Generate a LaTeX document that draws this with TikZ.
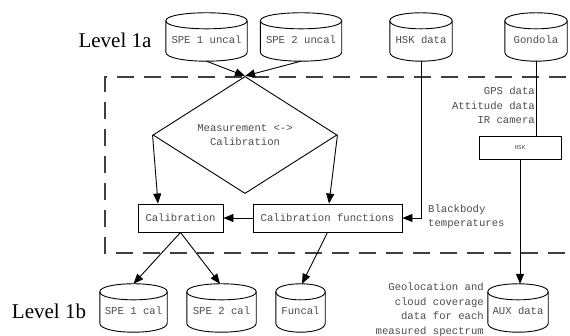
\documentclass[tikz,border=0pt]{standalone}
\usepackage{fontspec}
\setmainfont{Liberation Serif}
\setmonofont{Liberation Mono}
\usetikzlibrary{shapes.geometric,arrows.meta,calc}
\newcommand\cylout[1]{%
  \draw[ln] (#1.south west) -- ($(#1.north west)+(0,-7)$) coordinate (#1-tl)
    .. controls +(0,-10.7) and +(0,-10.7) .. ($(#1.north east)+(0,-7)$) coordinate (#1-tr)
    -- (#1.south east) .. controls +(0,12) and +(0,12) .. (#1.south west) -- cycle;
  \draw[ln] (#1-tl) .. controls +(0,10.7) and +(0,10.7) .. (#1-tr);
  \coordinate (#1-top) at ($(#1.north)+(0,-15)$);
  \coordinate (#1-bot) at ($(#1.south)+(0,9)$);
}
\begin{document}
\begin{tikzpicture}[x=1pt,y=-1pt,
  mono/.style={font=\fontsize{10.6}{14.5}\selectfont\ttfamily, text=black!70},
  cyl/.style={mono, inner sep=0pt, minimum height=24pt},
  lvl/.style={font=\fontsize{21}{24}\selectfont},
  box/.style={draw, line width=0.9pt, mono, inner sep=0pt, minimum height=28pt},
  arr/.style={line width=0.9pt, -{Triangle[length=10pt,width=8pt]}},
  ln/.style={line width=0.9pt},
  clus/.style={line width=1.2pt, black!75, dash pattern=on 17pt off 10pt}]
\path[use as bounding box] (0,0) rectangle (570,336);

% cluster
\coordinate (c1) at (566,77);
\coordinate (c2) at (105,77);
\coordinate (c3) at (105,253);
\coordinate (c4) at (570,253);
\draw[clus] (c1) -- (c2) -- (c3) -- (c4);

% level labels
\node[lvl] (l1a) at (115,40) {Level 1a};
\node[lvl] (l1b) at (49,311) {Level 1b};

% cylinders top
\node[cyl, minimum width=81pt] (spe1u) at (206.5,40) {SPE 1 uncal};
\node[cyl, minimum width=81pt] (spe2u) at (301,40) {SPE 2 uncal};
\node[cyl, minimum width=62pt] (hskd) at (421,40) {HSK data};
\node[cyl, minimum width=62pt] (gond) at (536,40) {Gondola};
\cylout{spe1u}\cylout{spe2u}\cylout{hskd}\cylout{gond}

% cylinders bottom
\node[cyl, minimum width=67pt] (spe1c) at (133.5,311) {SPE 1 cal};
\node[cyl, minimum width=69pt] (spe2c) at (221.5,311) {SPE 2 cal};
\node[cyl, minimum width=49pt] (funcal) at (300.5,311) {Funcal};
\node[cyl, minimum width=60pt] (aux) at (518,311) {AUX data};
\cylout{spe1c}\cylout{spe2c}\cylout{funcal}\cylout{aux}

% diamond
\node[draw, line width=0.9pt, diamond, minimum width=184pt, minimum height=90pt,
  inner sep=0pt, mono, align=center] (meas) at (245,135) {Measurement <->\\Calibration};

% boxes
\node[box, minimum width=85pt] (calib) at (180.5,218) {Calibration};
\node[box, minimum width=149pt] (calfun) at (327.5,218) {Calibration functions};
\node[draw, line width=0.9pt, inner sep=0pt, minimum width=82pt, minimum height=23pt,
  font=\fontsize{6}{7}\selectfont\ttfamily, text=black!70] (hskbox) at (520,147.5) {HSK};

% texts
\node[mono, anchor=east, align=right, inner sep=0pt] (gps) at (535,105.5)
  {GPS data\\Attitude data\\IR camera};
\node[mono, anchor=west, align=left, inner sep=0pt] (bb) at (428,217)
  {Blackbody\\temperatures};
\node[mono, anchor=east, align=right, inner sep=0pt] (geo) at (484,310)
  {Geolocation and\\cloud coverage\\data for each\\measured spectrum};

% connectors
\draw[arr] (spe1u-bot) -- (meas.north);
\draw[arr] (spe2u-bot) -- (meas.north);
\draw[arr] (meas.west) -- ([xshift=-22.5pt]calib.north);
\draw[arr] (meas.east) -- ([xshift=1.5pt]calfun.north);
\draw[arr] (calfun.west) -- (calib.east);
\draw[arr] (hskd-bot) |- (calfun.east);
\draw[ln] (gond-bot) -- (gond-bot |- hskbox.north);
\draw[arr] (hskbox.south) -- (hskbox.south |- aux-top);
\draw[arr] (calib.south) -- (spe1c-top);
\draw[arr] (calib.south) -- ([xshift=-1.5pt]spe2c-top);
\draw[arr] (calfun.south) -- ([xshift=1.5pt]funcal-top);
\end{tikzpicture}
\end{document}
